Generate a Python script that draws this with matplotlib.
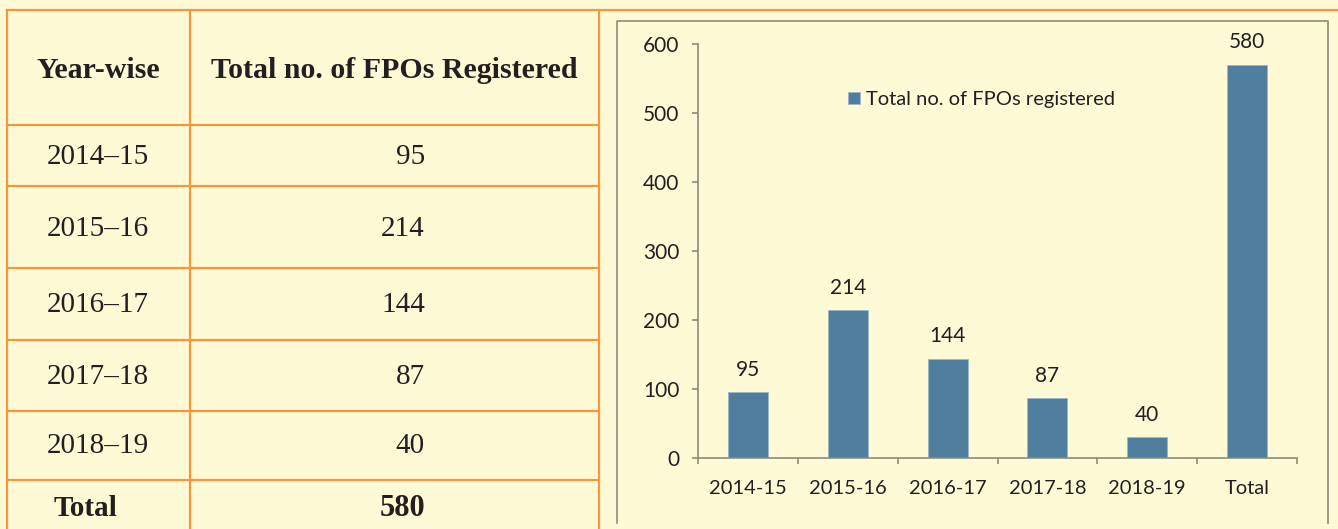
import matplotlib.pyplot as plt

# data
years = ["2014\u201315", "2015\u201316", "2016\u201317", "2017\u201318", "2018\u201319"]
fpo_counts = [95, 214, 144, 87, 40]
total_count = 580

bar_labels = ["2014-15", "2015-16", "2016-17", "2017-18", "2018-19", "Total"]
bar_heights = [95, 214, 144, 87, 30, 570]
bar_texts = ["95", "214", "144", "87", "40", "580"]

bg_col = "#FFFAD6"
orange = "#F7963C"
grey = "#8C8C7C"
bar_col = "#4F7E9E"
txt_col = "#231F20"

W, H = 1338, 529
fig = plt.figure(figsize=(W / 100, H / 100), dpi=100)
fig.patch.set_facecolor(bg_col)

# full-figure layer in pixel coords for the table and frames
bg = fig.add_axes([0, 0, 1, 1], zorder=0)
bg.set_xlim(0, W)
bg.set_ylim(H, 0)
bg.axis("off")

row_lines = [10, 125, 186, 268, 340, 411, 480]
lw = 1.6
bg.plot([7, W], [10, 10], color=orange, lw=lw)
for y in row_lines[1:]:
    bg.plot([7, 599], [y, y], color=orange, lw=lw)
for x in [7, 190, 599]:
    bg.plot([x, x], [10, H], color=orange, lw=lw)

# chart frame
bg.plot([617, 617, 1328, 1328], [523, 21, 21, 523], color=grey, lw=1.2)

serif = "Liberation Serif"
bg.text(98, 70, "Year-wise", ha="center", va="center", fontsize=21.5,
        fontweight="bold", family=serif, color=txt_col)
bg.text(394, 70, "Total no. of FPOs Registered", ha="center", va="center",
        fontsize=21.5, fontweight="bold", family=serif, color=txt_col)

row_y = [157, 229, 305, 377, 446]
for yr, cnt, y in zip(years, fpo_counts, row_y):
    bg.text(98, y, yr, ha="center", va="center", fontsize=21,
            family=serif, color=txt_col)
    bg.text(425, y, str(cnt), ha="right", va="center", fontsize=21,
            family=serif, color=txt_col)
bg.text(85, 509, "Total", ha="center", va="center", fontsize=21,
        fontweight="bold", family=serif, color=txt_col)
bg.text(425, 509, str(total_count), ha="right", va="center", fontsize=22,
        fontweight="bold", family=serif, color=txt_col)

# bar chart
ax = fig.add_axes([698 / W, (H - 458) / H, (1297 - 698) / W, (458 - 44) / H], zorder=1)
ax.patch.set_alpha(0)
x = range(len(bar_labels))
bars = ax.bar(x, bar_heights, width=0.4, color=bar_col, edgecolor="#9DB6C8",
              linewidth=0.6, label="Total no. of FPOs registered")
for b, t in zip(bars, bar_texts):
    ax.annotate(t, (b.get_x() + b.get_width() / 2, b.get_height()),
                xytext=(0, 16), textcoords="offset points", ha="center",
                va="center", fontsize=15, family="Lato", color=txt_col)

ax.set_xlim(-0.5, len(bar_labels) - 0.5)
ax.set_ylim(0, 600)
ax.set_yticks(range(0, 601, 100))
ax.set_xticks(list(x))
ax.set_xticklabels(bar_labels)
ax.set_xticks([i - 0.5 for i in range(len(bar_labels) + 1)], minor=True)
ax.tick_params(axis="x", which="major", length=0, pad=16)
ax.tick_params(axis="x", which="minor", length=4.5, width=1.2, color=grey)
ax.tick_params(axis="y", length=4.5, width=1.2, color=grey, pad=9)
for lab in ax.get_xticklabels():
    lab.set_fontfamily("Lato")
    lab.set_fontsize(14.5)
    lab.set_color(txt_col)
for lab in ax.get_yticklabels():
    lab.set_fontfamily("Lato")
    lab.set_fontsize(15)
    lab.set_color(txt_col)
for s in ["top", "right"]:
    ax.spines[s].set_visible(False)
for s in ["left", "bottom"]:
    ax.spines[s].set_color(grey)
    ax.spines[s].set_linewidth(1.2)

ax.legend(loc="upper left", bbox_to_anchor=(0.22, 0.93), frameon=False,
          handlelength=0.6, handleheight=0.6, handletextpad=0.3,
          prop={"family": "Lato", "size": 14.5}, labelcolor=txt_col)

fig.savefig("out.png", dpi=100, facecolor=bg_col)
